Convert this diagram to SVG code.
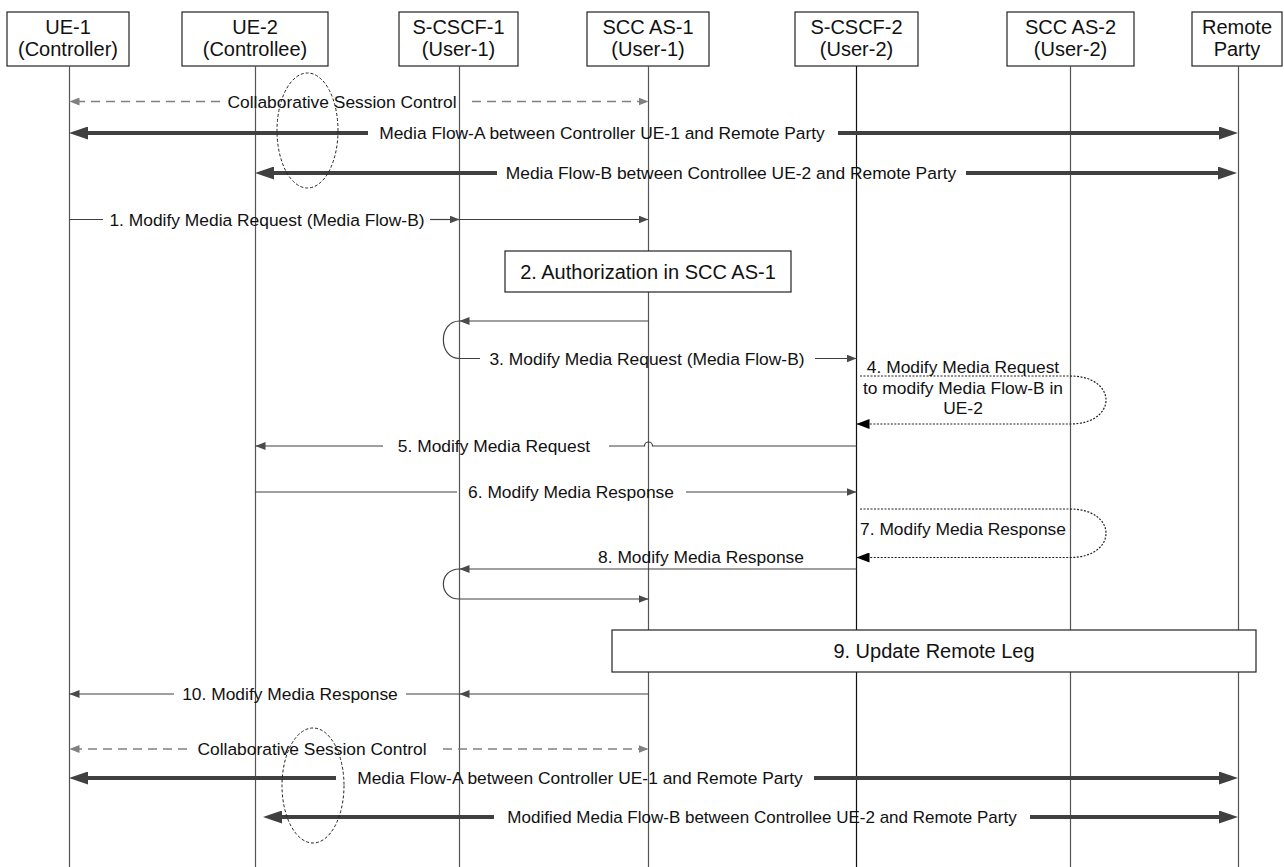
<svg xmlns="http://www.w3.org/2000/svg" width="1284" height="867" viewBox="0 0 1284 867">
<style>
text{font-family:"Liberation Sans",Arial,sans-serif;fill:#111}
.h{font-size:20px;text-anchor:middle}
.b{font-size:20px;text-anchor:middle}
.m{font-size:17.4px;text-anchor:middle}
.m2{font-size:17px}
.box{fill:#fff;stroke:#222;stroke-width:1.2}
.life{stroke:#555;stroke-width:1.2;fill:none}
.msg{stroke:#404040;stroke-width:1.2;fill:none}
.dash{stroke:#808080;stroke-width:1.5;fill:none;stroke-dasharray:9 6}
.flow{stroke:#404040;stroke-width:4;fill:none}
.dot{stroke:#222;stroke-width:1.2;fill:none;stroke-dasharray:2 1.5}
.ell{stroke:#222;stroke-width:1;fill:none;stroke-dasharray:3 2}
</style>
<defs>
<marker id="s" viewBox="0 0 10 8" refX="10" refY="4" markerWidth="10" markerHeight="8" orient="auto" markerUnits="userSpaceOnUse"><path d="M0 0L10 4L0 8Z" fill="#4a4a4a"/></marker>
<marker id="g" viewBox="0 0 10 8" refX="10" refY="4" markerWidth="10" markerHeight="8" orient="auto" markerUnits="userSpaceOnUse"><path d="M0 0L10 4L0 8Z" fill="#808080"/></marker>
<marker id="k" viewBox="0 0 13 10" refX="13" refY="5" markerWidth="13" markerHeight="10" orient="auto" markerUnits="userSpaceOnUse"><path d="M0 0L13 5L0 10Z" fill="#000"/></marker>
<marker id="f" viewBox="0 0 19 13" refX="9" refY="6.5" markerWidth="19" markerHeight="13" orient="auto" markerUnits="userSpaceOnUse"><path d="M0 0L19 6.5L0 13Z" fill="#404040"/></marker>
</defs>

<g id="ue1">
<rect class="box" x="7" y="12" width="122" height="54"/>
<text class="h" x="68" y="33.5">UE-1</text>
<text class="h" x="68" y="56">(Controller)</text>
<line class="life" x1="69.5" y1="66" x2="69.5" y2="867"/>
</g>
<g id="ue2">
<rect class="box" x="182" y="12" width="146" height="54"/>
<text class="h" x="255" y="33.5">UE-2</text>
<text class="h" x="255" y="56">(Controllee)</text>
<line class="life" x1="255.5" y1="66" x2="255.5" y2="867"/>
</g>
<g id="scscf1">
<rect class="box" x="399" y="12" width="119" height="54"/>
<text class="h" x="458.5" y="33.5">S-CSCF-1</text>
<text class="h" x="458.5" y="56">(User-1)</text>
<line class="life" x1="459.5" y1="66" x2="459.5" y2="867"/>
</g>
<g id="sccas1">
<rect class="box" x="587" y="12" width="122" height="54"/>
<text class="h" x="648" y="33.5">SCC AS-1</text>
<text class="h" x="648" y="56">(User-1)</text>
<line class="life" x1="648.5" y1="66" x2="648.5" y2="867"/>
</g>
<g id="scscf2">
<rect class="box" x="795" y="12" width="123" height="54"/>
<text class="h" x="856.5" y="33.5">S-CSCF-2</text>
<text class="h" x="856.5" y="56">(User-2)</text>
<line class="life" x1="856.5" y1="66" x2="856.5" y2="867" style="stroke:#111"/>
</g>
<g id="sccas2">
<rect class="box" x="1007" y="12" width="127" height="54"/>
<text class="h" x="1070.5" y="33.5">SCC AS-2</text>
<text class="h" x="1070.5" y="56">(User-2)</text>
<line class="life" x1="1070.5" y1="66" x2="1070.5" y2="867"/>
</g>
<g id="remote">
<rect class="box" x="1192" y="12" width="90" height="54"/>
<text class="h" x="1237" y="33.5">Remote</text>
<text class="h" x="1237" y="56">Party</text>
<line class="life" x1="1238.5" y1="66" x2="1238.5" y2="867"/>
</g>

<g id="step2">
<rect class="box" x="505" y="251" width="286" height="41"/>
<text class="b" x="648" y="279">2. Authorization in SCC AS-1</text>
</g>
<g id="step9">
<rect class="box" x="612" y="630" width="644" height="42"/>
<text class="b" x="934" y="658">9. Update Remote Leg</text>
</g>

<g id="connectors">
<path class="dash" d="M220 101.5H69.5" marker-end="url(#g)"/>
<path class="dash" d="M472 101.5H648.5" marker-end="url(#g)"/>
<path class="flow" d="M368 133H79" marker-end="url(#f)"/>
<path class="flow" d="M838 133H1228" marker-end="url(#f)"/>
<path class="flow" d="M497 173H265" marker-end="url(#f)"/>
<path class="flow" d="M966 173H1227" marker-end="url(#f)"/>
<path class="msg" d="M69.5 219.5H103"/>
<path class="msg" d="M430 219.5H459.5" marker-end="url(#s)"/>
<path class="msg" d="M459.5 219.5H648.5" marker-end="url(#s)"/>
<path class="msg" d="M648.5 321H459.5" marker-end="url(#s)"/>
<path class="msg" d="M459.5 321C438 321 438 358.5 459.5 358.5H480"/>
<path class="msg" d="M815 358.5H856.5" marker-end="url(#s)"/>
<path class="dot" d="M860 376H1070C1118 376 1118 424 1070 424H856.5" marker-end="url(#k)"/>
<path class="msg" d="M856.5 446H652.5A4 4 0 0 0 644.5 446H609"/>
<path class="msg" d="M383 446H255.5" marker-end="url(#s)"/>
<path class="msg" d="M255.5 492H457"/>
<path class="msg" d="M686 492H856.5" marker-end="url(#s)"/>
<path class="dot" d="M860 509H1070C1118 509 1118 557.5 1070 557.5H856.5" marker-end="url(#k)"/>
<path class="msg" d="M856.5 569H459.5" marker-end="url(#s)"/>
<path class="msg" d="M459.5 569C438 569 438 599 459.5 599H648.5" marker-end="url(#s)"/>
<path class="msg" d="M648.5 694H459.5" marker-end="url(#s)"/>
<path class="msg" d="M459.5 694H406"/>
<path class="msg" d="M174 694H69.5" marker-end="url(#s)"/>
<path class="dash" d="M187 749H69.5" marker-end="url(#g)"/>
<path class="dash" d="M443 749H648.5" marker-end="url(#g)"/>
<path class="flow" d="M336 778H79" marker-end="url(#f)"/>
<path class="flow" d="M814 778H1228" marker-end="url(#f)"/>
<path class="flow" d="M494 817H273" marker-end="url(#f)"/>
<path class="flow" d="M1030 817H1228" marker-end="url(#f)"/>
</g>

<g id="labels">
<text class="m" x="342" y="107.5">Collaborative Session Control</text>
<text class="m" x="602" y="139">Media Flow-A between Controller UE-1 and Remote Party</text>
<text class="m" x="731" y="179">Media Flow-B between Controllee UE-2 and Remote Party</text>
<text class="m" x="267" y="225.5">1. Modify Media Request (Media Flow-B)</text>
<text class="m" x="647" y="364.5">3. Modify Media Request (Media Flow-B)</text>
<text class="m" x="963" y="373">4. Modify Media Request</text>
<text class="m" x="963" y="394">to modify Media Flow-B in</text>
<text class="m" x="963" y="414">UE-2</text>
<text class="m" x="494" y="452">5. Modify Media Request</text>
<text class="m" x="571" y="498">6. Modify Media Response</text>
<text class="m" x="963" y="535">7. Modify Media Response</text>
<text class="m" x="701" y="563">8. Modify Media Response</text>
<text class="m" x="290" y="700">10. Modify Media Response</text>
<text class="m" x="312" y="755">Collaborative Session Control</text>
<text class="m" x="580" y="784">Media Flow-A between Controller UE-1 and Remote Party</text>
<text class="m m2" x="762" y="823">Modified Media Flow-B between Controllee UE-2 and Remote Party</text>
</g>

<g id="annotations">
<ellipse class="ell" cx="307.5" cy="130.5" rx="30.5" ry="57.5"/>
<ellipse class="ell" cx="313" cy="785.5" rx="31" ry="57.5"/>
</g>
</svg>
